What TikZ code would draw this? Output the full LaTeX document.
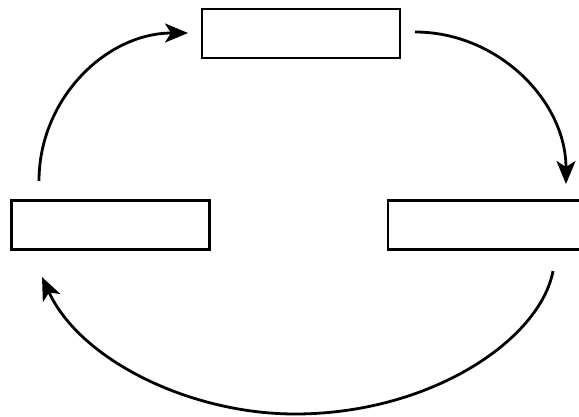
\documentclass[tikz,border=0pt]{standalone}
\usetikzlibrary{arrows.meta}
\begin{document}
\begin{tikzpicture}[x=1pt,y=1pt,
  box/.style={draw=black,line width=2.4pt,fill=white,minimum width=198pt,minimum height=49pt,inner sep=0pt,outer sep=0pt},
  conn/.style={draw=black,line width=2.8pt,arrows={-Stealth[length=23pt,width=19pt,inset=6pt]}}]
\useasboundingbox (0,-417) rectangle (579,0);
\node[box] (top) at (301,-33.5) {};
\node[box] (left) at (110.5,-225) {};
\node[box] (right) at (487,-225) {};
\coordinate (s1) at (39,-181);
\coordinate (e1) at (188,-33);
\coordinate (s2) at (415,-32);
\coordinate (e2) at (566,-184);
\coordinate (s3) at (553,-271);
\coordinate (m3) at (295,-414);
\coordinate (e3) at (42,-277);
\draw[conn] (s1) .. controls (39,-99) and (106,-33) .. (e1);
\draw[conn] (s2) .. controls (498,-32) and (566,-101) .. (e2);
\draw[conn] (s3) .. controls (540,-340) and (430,-414) .. (m3) .. controls (190,-414) and (80,-360) .. (e3);
\end{tikzpicture}
\end{document}
